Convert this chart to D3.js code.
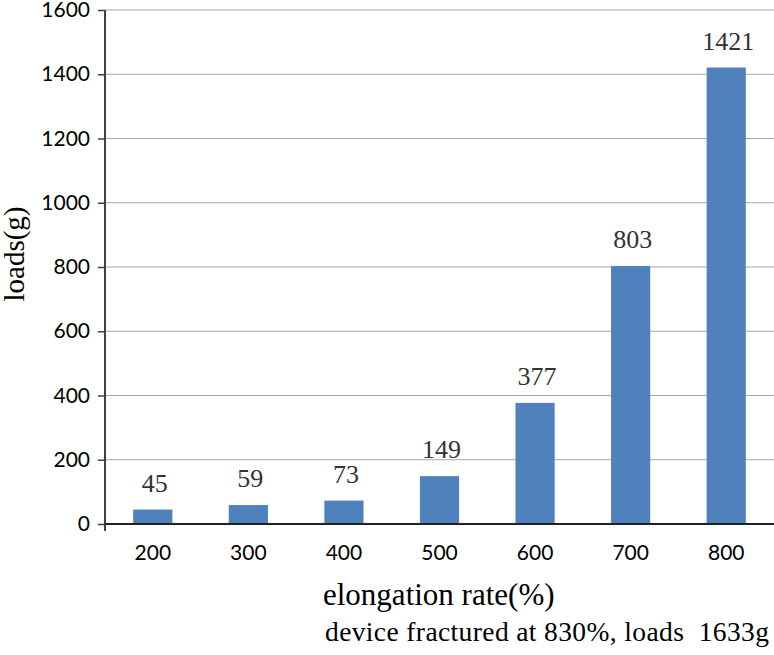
<!DOCTYPE html>
<html><head><meta charset="utf-8">
<script src="https://cdn.jsdelivr.net/npm/d3@7/dist/d3.min.js"></script>
<style>body{margin:0;background:#fff}svg{display:block}</style>
</head><body>
<svg id="c" width="774" height="655"></svg>
<script>
const categories = ["200","300","400","500","600","700","800"];
const loads = [45, 59, 73, 149, 377, 803, 1421];
const yTicks = [0,200,400,600,800,1000,1200,1400,1600];
const xTitle = "elongation rate(%)";
const yTitle = "loads(g)";
const note = "device fractured at 830%, loads  1633g";

const svg = d3.select("#c");
const m = {l:105, r:774, t:10, b:524};
const x = d3.scaleBand().domain(categories).range([m.l, m.r]).paddingInner(0.59).paddingOuter(0.295);
const y = d3.scaleLinear().domain([0,1600]).range([m.b, m.t]);

// gridlines
svg.append("g").selectAll("line").data(yTicks.filter(d=>d>0)).join("line")
  .attr("x1", m.l).attr("x2", m.r).attr("y1", d=>y(d)).attr("y2", d=>y(d))
  .attr("stroke", "#a6a6a6").attr("stroke-width", 1.2);

// bars
svg.append("g").selectAll("rect").data(loads).join("rect")
  .attr("x", (d,i)=>x(categories[i])).attr("width", x.bandwidth())
  .attr("y", d=>y(d)).attr("height", d=>y(0)-y(d))
  .attr("fill", "#4f81bd");

// data labels
svg.append("g").selectAll("text").data(loads).join("text")
  .attr("x", (d,i)=>x(categories[i]) + x.bandwidth()/2 + 2).attr("y", d=>y(d)-18)
  .attr("text-anchor","middle").attr("font-family","'Liberation Serif', serif")
  .attr("font-size", 26).attr("fill","#333").text(d=>d);

// y axis
const ya = d3.axisLeft(y).tickValues(yTicks).tickSize(7).tickPadding(8).tickFormat(d3.format("d"));
const gy = svg.append("g").attr("transform", `translate(${m.l},0)`).call(ya);
gy.select(".domain").attr("stroke","#404040").attr("stroke-width",2).attr("d", `M0,${m.t}V${m.b+7}`);
gy.selectAll(".tick line").attr("stroke","#404040").attr("stroke-width",1.5);
gy.selectAll(".tick text").attr("font-family","Lato, 'Open Sans', sans-serif").attr("font-size",21).attr("fill","#000");

// x axis
const xa = d3.axisBottom(x).tickSize(0).tickPadding(21);
const gx = svg.append("g").attr("transform", `translate(0,${m.b})`).call(xa);
gx.select(".domain").attr("stroke","#222").attr("stroke-width",2).attr("d", `M${m.l},0H${m.r}`);
gx.selectAll(".tick text").attr("font-family","Lato, 'Open Sans', sans-serif").attr("font-size",21).attr("fill","#000");

// titles
svg.append("text").attr("x", 323).attr("y", 605).attr("text-anchor","start")
  .attr("font-family","'Liberation Serif', serif").attr("font-size",31).attr("fill","#000").text(xTitle);
svg.append("text").attr("transform","translate(24,254) rotate(-90)").attr("text-anchor","middle")
  .attr("font-family","'Liberation Serif', serif").attr("font-size",29).attr("fill","#000").text(yTitle);
svg.append("text").attr("x", 325).attr("y", 641).attr("text-anchor","start")
  .attr("font-family","'Liberation Serif', serif").attr("font-size",27.5).attr("fill","#000")
  .attr("textLength", 444).attr("lengthAdjust","spacing")
  .attr("xml:space","preserve").style("white-space","pre").text(note);
</script>
</body></html>
